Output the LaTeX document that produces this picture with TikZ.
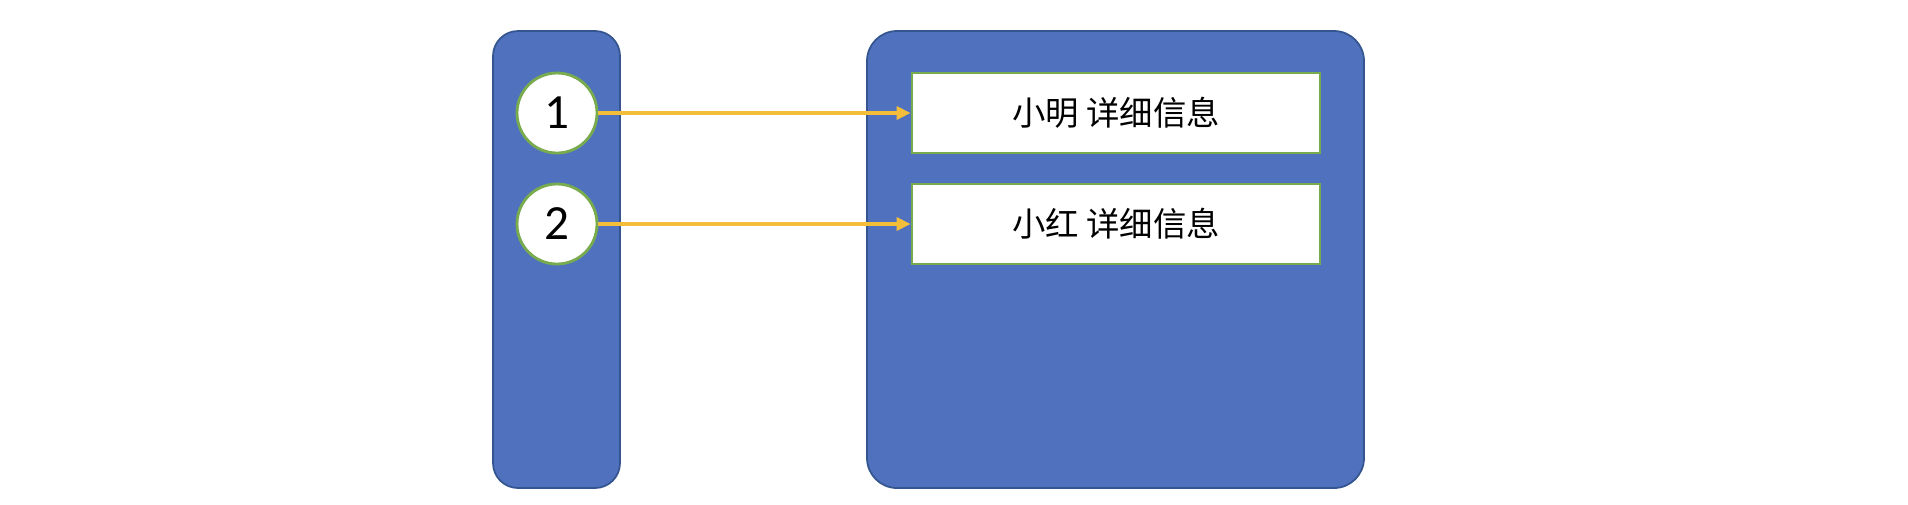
\documentclass[tikz,border=0pt]{standalone}
\usepackage{fontspec}
\setmainfont{Carlito}
\newfontfamily\cjk{Noto Sans CJK SC}
\usetikzlibrary{arrows.meta,positioning}
\definecolor{panelblue}{HTML}{5072BE}
\definecolor{paneledge}{HTML}{34558F}
\definecolor{leafgreen}{HTML}{78AB4E}
\definecolor{linkgold}{HTML}{F4BE3A}
\tikzset{panel/.style={rectangle,rounded corners=#1,draw=paneledge,fill=panelblue,line width=.5pt,inner sep=0pt},slot/.style={circle,draw=leafgreen,fill=white,line width=.8pt,minimum size=8mm,inner sep=0pt,font=\fontsize{14}{14}\selectfont},record/.style={rectangle,draw=leafgreen,fill=white,line width=.8pt,minimum width=40.8mm,minimum height=8mm,inner sep=0pt,font=\cjk\fontsize{9.5}{10}\selectfont},link/.style={-{Triangle[length=1.4mm,width=1.3mm]},linkgold,line width=1pt}}
\begin{document}
\begin{tikzpicture}[x=1cm,y=1cm]
\useasboundingbox (0,0) rectangle (19.08,5.04);
\node[panel=2.5mm,minimum width=12.7mm,minimum height=45.7mm] (index) at (5.565,2.445) {};
\node[panel=3mm,minimum width=49.7mm,minimum height=45.7mm] (store) at (11.155,2.445) {};
\foreach \i/\y/\who in {1/3.91/小明,2/2.80/小红}{
  \node[slot] (s\i) at (5.57,\y) {\i};
  \node[record] (r\i) at (11.16,\y) {\who\ 详细信息};
  \draw[link] (s\i)--(r\i);}
\end{tikzpicture}
\end{document}
